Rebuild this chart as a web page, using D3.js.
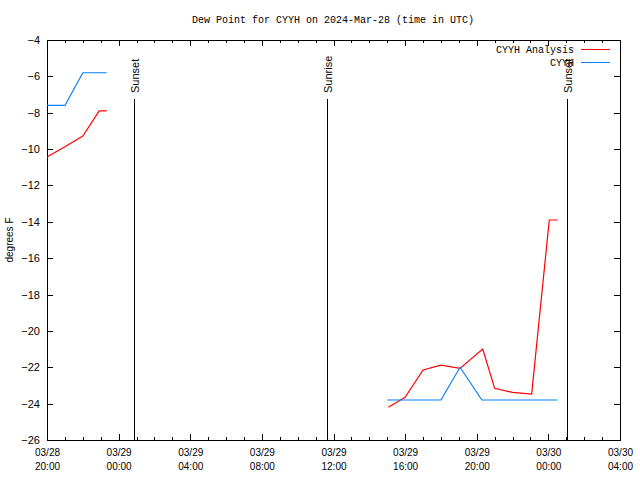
<!DOCTYPE html>
<html><head><meta charset="utf-8">
<script src="https://cdn.jsdelivr.net/npm/d3@7"></script>
<style>body{margin:0;background:#fff}svg{display:block}</style>
</head><body>
<script>
const title = "Dew Point for CYYH on 2024-Mar-28 (time in UTC)";
const yLabel = "degrees F";
const seriesNames = ["CYYH Analysis", "CYYH"];
const seriesColors = ["#ff0000", "#0080ff"];
// Analysis (red): time, value (null = gap)
const analysisTimes = ["2024-03-28T20:00","2024-03-28T21:00","2024-03-28T22:00","2024-03-28T22:55","2024-03-28T23:20",
  "2024-03-29T06:00",
  "2024-03-29T15:04","2024-03-29T16:00","2024-03-29T17:00","2024-03-29T18:00","2024-03-29T19:04","2024-03-29T20:20",
  "2024-03-29T21:00","2024-03-29T22:00","2024-03-29T23:04","2024-03-30T00:03","2024-03-30T00:31"];
const analysisValues = [-10.44,-9.87,-9.28,-7.9,-7.9,
  null,
  -24.2,-23.65,-22.15,-21.88,-22.06,-21.0,-23.16,-23.38,-23.47,-13.9,-13.9];
// Observations (blue)
const obsTimes = ["2024-03-28T20:00","2024-03-28T21:00","2024-03-28T22:00","2024-03-28T23:20",
  "2024-03-29T06:00",
  "2024-03-29T15:00","2024-03-29T18:00","2024-03-29T19:04","2024-03-29T20:17","2024-03-30T00:31"];
const obsValues = [-7.6,-7.6,-5.8,-5.8,
  null,
  -23.8,-23.8,-22.0,-23.8,-23.8];
const sunLabels = ["Sunset","Sunrise","Sunset"];
const sunTimes = ["2024-03-29T00:53","2024-03-29T11:37","2024-03-30T01:04"];
const xDomain = ["2024-03-28T20:00","2024-03-30T04:00"];
const yDomain = [-26,-4];
const yTicks = [-26,-24,-22,-20,-18,-16,-14,-12,-10,-8,-6,-4];

const W=640,H=480;
const m={l:47,r:20,t:40,b:40};
const parse = s => new Date(s+":00Z");
const svg = d3.select("body").append("svg").attr("width",W).attr("height",H)
  .style("font-family","'Liberation Mono','DejaVu Sans Mono',monospace").style("font-size","10px");
const x = d3.scaleUtc().domain(xDomain.map(parse)).range([m.l, W-m.r]);
const y = d3.scaleLinear().domain(yDomain).range([H-m.b, m.t]);

const majorX = d3.utcHour.every(4).range(parse(xDomain[0]), new Date(+parse(xDomain[1])+1));
const minorX = d3.utcHour.every(1).range(parse(xDomain[0]), new Date(+parse(xDomain[1])+1));
const fmtD = d3.utcFormat("%m/%d"), fmtT = d3.utcFormat("%H:%M");

const g = svg.append("g").attr("shape-rendering","crispEdges");
// minor ticks bottom/top
g.append("g").attr("transform",`translate(0,${H-m.b})`)
  .call(d3.axisBottom(x).tickValues(minorX).tickSize(-3).tickFormat(""))
  .call(a=>a.select(".domain").remove());
g.append("g").attr("transform",`translate(0,${m.t})`)
  .call(d3.axisTop(x).tickValues(minorX).tickSize(-3).tickFormat(""))
  .call(a=>a.select(".domain").remove());
// major x ticks
const xb = g.append("g").attr("transform",`translate(0,${H-m.b})`)
  .call(d3.axisBottom(x).tickValues(majorX).tickSize(-6).tickPadding(8).tickFormat(""));
xb.select(".domain").remove();
xb.selectAll(".tick").each(function(d){
  const t = d3.select(this).append("text").attr("fill","#000").attr("text-anchor","middle");
  t.append("tspan").attr("x",0).attr("y",16).text(fmtD(d));
  t.append("tspan").attr("x",0).attr("y",30).text(fmtT(d));
});
g.append("g").attr("transform",`translate(0,${m.t})`)
  .call(d3.axisTop(x).tickValues(majorX).tickSize(-6).tickFormat(""))
  .call(a=>a.select(".domain").remove());
// y axes
const yl = g.append("g").attr("transform",`translate(${m.l},0)`)
  .call(d3.axisLeft(y).tickValues(yTicks).tickSize(-6).tickPadding(7).tickFormat(d3.format("d")));
yl.select(".domain").remove();
yl.selectAll("text").style("font-family","'Liberation Sans',Arial,sans-serif").style("font-size","11px").attr("fill","#000");
g.append("g").attr("transform",`translate(${W-m.r},0)`)
  .call(d3.axisRight(y).tickValues(yTicks).tickSize(-6).tickFormat(""))
  .call(a=>a.select(".domain").remove());
svg.selectAll(".tick line").attr("stroke","#000");
// border
g.append("rect").attr("x",m.l).attr("y",m.t).attr("width",W-m.l-m.r).attr("height",H-m.t-m.b)
  .attr("fill","none").attr("stroke","#000");

// sun lines
sunTimes.forEach((s,i)=>{
  const xx = Math.round(x(parse(s)))+0.5;
  svg.append("line").attr("x1",xx).attr("x2",xx).attr("y1",99).attr("y2",H-m.b).attr("stroke","#000");
  svg.append("text").attr("transform",`translate(${xx+4},93) rotate(-90)`)
    .style("font-family","'Liberation Sans',Arial,sans-serif").style("font-size","11px")
    .text(sunLabels[i]);
});

// lines
const mk = (ts,vs)=>ts.map((t,i)=>({t:parse(t),v:vs[i]}));
const line = d3.line().defined(d=>d.v!==null).x(d=>x(d.t)).y(d=>y(d.v));
[[analysisTimes,analysisValues],[obsTimes,obsValues]].forEach(([ts,vs],i)=>{
  svg.append("path").datum(mk(ts,vs)).attr("d",line).attr("fill","none")
    .attr("stroke",seriesColors[i]).attr("stroke-width",1.2);
});

// legend
seriesNames.forEach((n,i)=>{
  const yy = 49 + i*13;
  svg.append("text").attr("x",574).attr("y",yy+3.5).attr("text-anchor","end").text(n);
  svg.append("line").attr("x1",581).attr("x2",610).attr("y1",yy+0.5).attr("y2",yy+0.5)
    .attr("stroke",seriesColors[i]).attr("shape-rendering","crispEdges");
});

// title
svg.append("text").attr("x",333).attr("y",23).attr("text-anchor","middle").text(title);
// y label
svg.append("text").attr("transform",`translate(13,240) rotate(-90)`).attr("text-anchor","middle")
  .style("font-family","'Liberation Sans',Arial,sans-serif").style("font-size","10px").text(yLabel);
</script>
</body></html>
